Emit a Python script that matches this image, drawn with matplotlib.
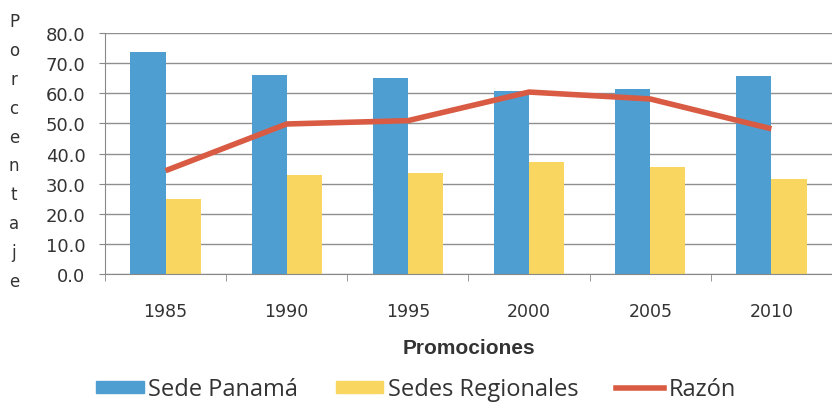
import matplotlib
matplotlib.use("Agg")
import matplotlib.pyplot as plt
import numpy as np
from matplotlib.patches import Patch
from matplotlib.lines import Line2D

plt.rcParams['font.family'] = ['DejaVu Sans']

years = ["1985", "1990", "1995", "2000", "2005", "2010"]
sede_panama = [73.6, 65.9, 65.0, 60.9, 61.5, 65.7]
sedes_regionales = [24.9, 32.9, 33.6, 37.1, 35.6, 31.6]
razon = [34.3, 49.8, 50.9, 60.4, 58.1, 48.2]

c_blue = "#4F9ED2"
c_yellow = "#F8D660"
c_red = "#D95B43"
txt = "#333333"

fig = plt.figure(figsize=(8.32, 4.06), dpi=100)
ax = fig.add_axes([105/832, (406-275)/406, 727/832, 241/406])

x = np.arange(len(years))
w = 0.29
ax.bar(x - w/2, sede_panama, width=w, color=c_blue, zorder=2)
ax.bar(x + w/2, sedes_regionales, width=w, color=c_yellow, zorder=2)
ax.plot(x, razon, color=c_red, lw=4, zorder=3, solid_capstyle='butt')

ax.set_xlim(-0.5, len(years) - 0.5)
ax.set_ylim(0, 80)
ax.set_yticks(np.arange(0, 81, 10))
ax.set_yticklabels([f"{v:.1f}" for v in np.arange(0, 81, 10)], fontsize=13, color=txt)
ax.set_xticks(x)
ax.set_xticklabels(years, fontsize=12.5, color=txt)
ax.set_xticks(np.arange(-0.5, len(years), 1.0), minor=True)
ax.tick_params(axis='x', which='major', length=0, pad=20)
ax.tick_params(axis='x', which='minor', length=5, color="#888888")
ax.tick_params(axis='y', length=4, color="#888888", pad=10)
ax.grid(axis='y', color="#8f8f8f", lw=1.0, zorder=0)
for s in ['top', 'right']:
    ax.spines[s].set_visible(False)
for s in ['left', 'bottom']:
    ax.spines[s].set_color("#888888")

ax.set_xlabel("Promociones", fontsize=15, fontweight='bold', color=txt, labelpad=13,
              family=['Liberation Sans', 'DejaVu Sans'])

letters = "Porcentaje"
for i, ch in enumerate(letters):
    fig.text(14/832, 1 - (27 + i * 28.9) / 406, ch, fontsize=12, color=txt,
             ha='center', va='baseline')

handles = [Patch(color=c_blue), Patch(color=c_yellow), Line2D([0], [0], color=c_red, lw=4)]
fig.legend(handles, ["Sede Panamá", "Sedes Regionales", "Razón"], loc='center',
           bbox_to_anchor=(0.5, 1 - 390/406), ncol=3, frameon=False,
           prop={'family': ['Open Sans', 'DejaVu Sans'], 'size': 17},
           handlelength=2.0, handleheight=0.4, handletextpad=0.2, columnspacing=1.6,
           labelcolor=txt)

fig.savefig("out.png", dpi=100, facecolor='white')
